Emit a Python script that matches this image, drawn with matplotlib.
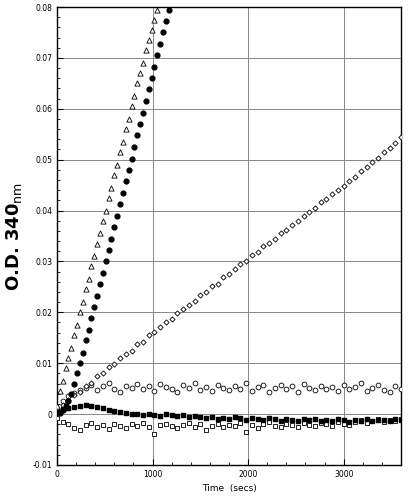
import matplotlib.pyplot as plt
import matplotlib.ticker as mticker

T_LONG = [0, 60, 120, 180, 240, 300, 360, 420, 480, 540, 600, 660, 720, 780, 840, 900,
          960, 1020, 1080, 1140, 1200, 1260, 1320, 1380, 1440, 1500, 1560, 1620, 1680,
          1740, 1800, 1860, 1920, 1980, 2040, 2100, 2160, 2220, 2280, 2340, 2400, 2460,
          2520, 2580, 2640, 2700, 2760, 2820, 2880, 2940, 3000, 3060, 3120, 3180, 3240,
          3300, 3360, 3420, 3480, 3540, 3600]

DIAMONDS = [0.0010, 0.0018, 0.0027, 0.0038, 0.0043, 0.0056, 0.0062, 0.0074, 0.0080, 0.0092,
            0.0098, 0.0110, 0.0118, 0.0124, 0.0137, 0.0142, 0.0155, 0.0161, 0.0172, 0.0180,
            0.0187, 0.0199, 0.0206, 0.0214, 0.0222, 0.0233, 0.0240, 0.0251, 0.0256, 0.0270,
            0.0276, 0.0285, 0.0294, 0.0301, 0.0312, 0.0318, 0.0330, 0.0337, 0.0345, 0.0356,
            0.0361, 0.0372, 0.0380, 0.0389, 0.0398, 0.0404, 0.0417, 0.0422, 0.0433, 0.0440,
            0.0449, 0.0459, 0.0466, 0.0478, 0.0485, 0.0496, 0.0503, 0.0515, 0.0522, 0.0533,
            0.0545]

OPEN_CIRCLES = [0.0010, 0.0025, 0.0035, 0.0042, 0.0048, 0.0052, 0.0058, 0.0047, 0.0055, 0.0061,
                0.0050, 0.0044, 0.0056, 0.0052, 0.0060, 0.0049, 0.0055, 0.0046, 0.0059, 0.0053,
                0.0050, 0.0043, 0.0057, 0.0051, 0.0062, 0.0048, 0.0054, 0.0045, 0.0058, 0.0052,
                0.0047, 0.0056, 0.0050, 0.0061, 0.0046, 0.0053, 0.0058, 0.0044, 0.0051, 0.0057,
                0.0049, 0.0055, 0.0043, 0.0060, 0.0052, 0.0047, 0.0056, 0.0050, 0.0054, 0.0045,
                0.0058, 0.0049, 0.0053, 0.0061, 0.0046, 0.0052, 0.0057, 0.0048, 0.0044, 0.0055,
                0.0050]

FILLED_SQUARES = [0.0005, 0.0010, 0.0012, 0.0014, 0.0016, 0.0017, 0.0016, 0.0014, 0.0011, 0.0008,
                  0.0006, 0.0004, 0.0002, 0.0001, 0.0000, -0.0002, 0.0001, -0.0001, -0.0003, 0.0000,
                  -0.0002, -0.0004, -0.0001, -0.0005, -0.0003, -0.0006, -0.0008, -0.0005, -0.0009, -0.0007,
                  -0.0010, -0.0006, -0.0008, -0.0011, -0.0007, -0.0009, -0.0012, -0.0008, -0.0010, -0.0013,
                  -0.0009, -0.0011, -0.0014, -0.0010, -0.0012, -0.0009, -0.0013, -0.0011, -0.0014, -0.0010,
                  -0.0012, -0.0015, -0.0011, -0.0013, -0.0010, -0.0014, -0.0012, -0.0011, -0.0013, -0.0010,
                  -0.0012]

OPEN_SQUARES = [-0.0008, -0.0015, -0.0020, -0.0028, -0.0032, -0.0022, -0.0018, -0.0025, -0.0021, -0.0030,
                -0.0019, -0.0024, -0.0027, -0.0020, -0.0023, -0.0018, -0.0026, -0.0040, -0.0022, -0.0019,
                -0.0024, -0.0028, -0.0021, -0.0017, -0.0025, -0.0020, -0.0032, -0.0023, -0.0019, -0.0026,
                -0.0021, -0.0024, -0.0018, -0.0035, -0.0022, -0.0027, -0.0020, -0.0016, -0.0023, -0.0025,
                -0.0019, -0.0022, -0.0026, -0.0018, -0.0021, -0.0024, -0.0017, -0.0020, -0.0023, -0.0015,
                -0.0019, -0.0022, -0.0016, -0.0012, -0.0018, -0.0014, -0.0009, -0.0015, -0.0011, -0.0013,
                -0.0010]

T_FAST = [0, 30, 60, 90, 120, 150, 180, 210, 240, 270, 300, 330, 360, 390, 420, 450, 480, 510,
          540, 570, 600, 630, 660, 690, 720, 750, 780, 810, 840, 870, 900, 930, 960, 990, 1020,
          1050, 1080, 1110, 1140, 1170]

TRIANGLES = [0.0015, 0.0045, 0.0065, 0.0090, 0.0110, 0.0130, 0.0155, 0.0175, 0.0200, 0.0220,
             0.0245, 0.0265, 0.0290, 0.0310, 0.0335, 0.0355, 0.0380, 0.0400, 0.0425, 0.0445,
             0.0470, 0.0490, 0.0515, 0.0535, 0.0560, 0.0580, 0.0605, 0.0625, 0.0650, 0.0670,
             0.0690, 0.0715, 0.0735, 0.0755, 0.0775, 0.0795]

FILLED_CIRCLES = [0.0005, 0.0002, 0.0008, 0.0015, 0.0025, 0.0040, 0.0060, 0.0080, 0.0100, 0.0120,
                  0.0145, 0.0165, 0.0188, 0.0210, 0.0232, 0.0255, 0.0278, 0.0300, 0.0322, 0.0345,
                  0.0368, 0.0390, 0.0412, 0.0435, 0.0458, 0.0480, 0.0502, 0.0525, 0.0548, 0.0570,
                  0.0592, 0.0615, 0.0638, 0.0660, 0.0682, 0.0705, 0.0728, 0.0750, 0.0772, 0.0795]

fig = plt.figure(figsize=(4.13, 5.01), dpi=100)
ax = fig.add_axes([0.138, 0.072, 0.833, 0.914])

ax.scatter(T_LONG, OPEN_SQUARES, marker="s", s=12, facecolors="white", edgecolors="black", linewidths=0.6, zorder=3)
ax.scatter(T_LONG, FILLED_SQUARES, marker="s", s=12, color="black", zorder=3)
ax.scatter(T_LONG, OPEN_CIRCLES, marker="o", s=12, facecolors="white", edgecolors="black", linewidths=0.6, zorder=3)
ax.scatter(T_LONG, DIAMONDS, marker="D", s=7, facecolors="white", edgecolors="black", linewidths=0.6, zorder=3)
ax.scatter(T_FAST[:len(TRIANGLES)], TRIANGLES, marker="^", s=14, facecolors="white", edgecolors="black", linewidths=0.6, zorder=3)
ax.scatter(T_FAST, FILLED_CIRCLES, marker="o", s=12, color="black", zorder=3)

ax.set_xlim(0, 3600)
ax.set_ylim(-0.01, 0.08)
ax.set_xticks([0, 1000, 2000, 3000])
ax.set_yticks([-0.01, 0, 0.01, 0.02, 0.03, 0.04, 0.05, 0.06, 0.07, 0.08])
ax.set_yticklabels(["-0.01", "0", "0.01", "0.02", "0.03", "0.04", "0.05", "0.06", "0.07", "0.08"])
ax.xaxis.set_minor_locator(mticker.MultipleLocator(200))
ax.yaxis.set_minor_locator(mticker.MultipleLocator(0.002))
ax.tick_params(labelsize=5.5, direction="in", length=4)
ax.tick_params(which="minor", direction="in", length=2)
ax.grid(True, color="#888888", linewidth=0.7)
ax.axhline(0, color="#888888", linewidth=0.7)
for sp in ax.spines.values():
    sp.set_linewidth(1.0)

ax.set_xlabel("Time  (secs)", fontsize=6.5, labelpad=4)
ax.set_ylabel(r"O.D. 340$_{\rm nm}$", fontsize=13, fontweight="bold", labelpad=6)

fig.savefig("out.png", dpi=100)
